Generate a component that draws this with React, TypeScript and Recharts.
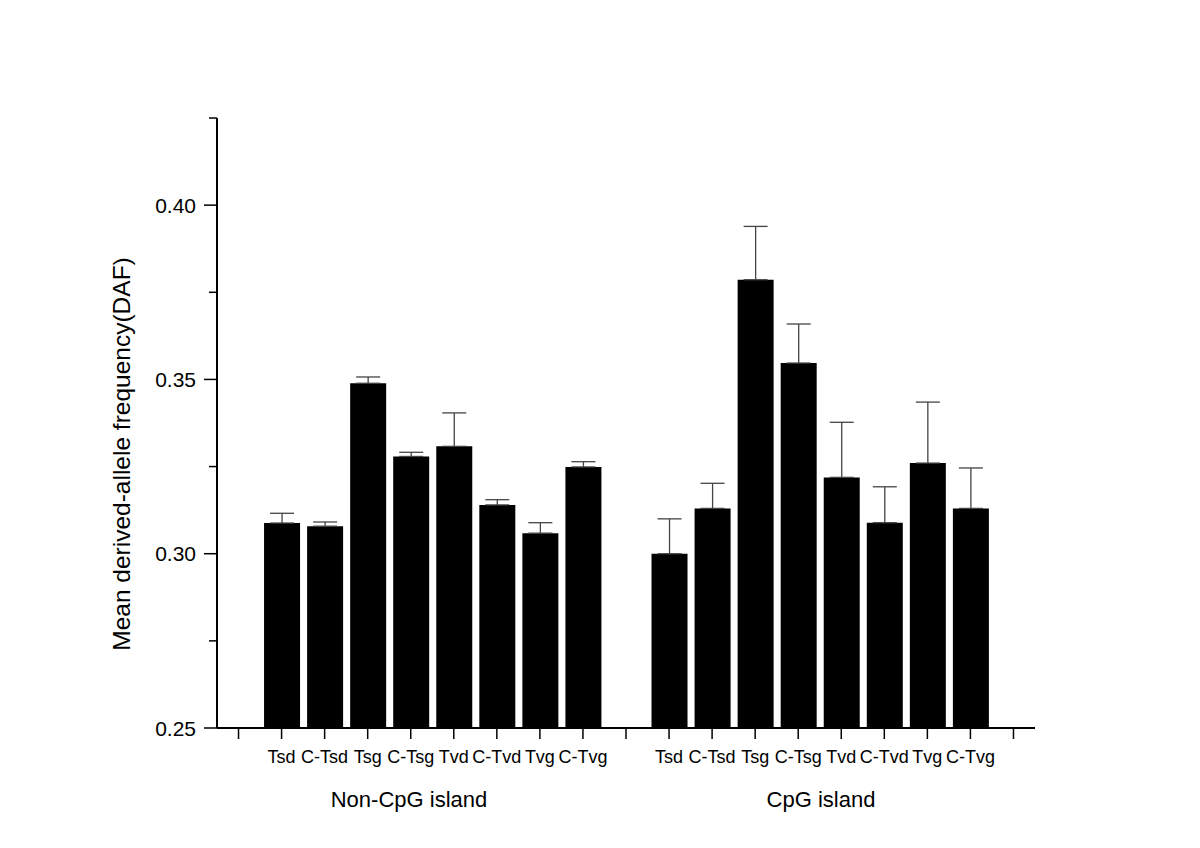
import React from 'react';
import { BarChart, Bar, XAxis, YAxis, ErrorBar } from 'recharts';

const groupLabels = ['Non-CpG island', 'CpG island'];
const barLabels = ['Tsd', 'C-Tsd', 'Tsg', 'C-Tsg', 'Tvd', 'C-Tvd', 'Tvg', 'C-Tvg'];
const nonCpGValues = [0.3088, 0.3079, 0.3489, 0.3279, 0.3308, 0.314, 0.3059, 0.3249];
const nonCpGErrors = [0.0028, 0.0012, 0.0018, 0.0012, 0.0096, 0.0015, 0.003, 0.0015];
const cpGValues = [0.3, 0.313, 0.3786, 0.3547, 0.3219, 0.3089, 0.326, 0.313];
const cpGErrors = [0.01, 0.0072, 0.0153, 0.0112, 0.0158, 0.0103, 0.0175, 0.0116];
const yTicks = [0.25, 0.275, 0.3, 0.325, 0.35, 0.375, 0.4, 0.425];
const yLabel = 'Mean derived-allele frequency(DAF)';

type Row = { k: number; label: string; value: number | null; err: number[] | null };

const data: Row[] = [];
data.push({ k: 0, label: '', value: null, err: null });
barLabels.forEach((l, i) => data.push({ k: data.length, label: l, value: nonCpGValues[i], err: [0, nonCpGErrors[i]] }));
data.push({ k: data.length, label: '', value: null, err: null });
barLabels.forEach((l, i) => data.push({ k: data.length, label: l, value: cpGValues[i], err: [0, cpGErrors[i]] }));
data.push({ k: data.length, label: '', value: null, err: null });

const FONT = '"Liberation Sans", Arial, sans-serif';

const YTick = (props: any) => {
  const { x, y, payload } = props;
  const v = payload.value as number;
  const major = Math.abs(v * 20 - Math.round(v * 20)) < 1e-6;
  return (
    <g>
      <line x1={x - (major ? 13 : 8)} x2={x} y1={y} y2={y} stroke="#000" strokeWidth={1.5} />
      {major && (
        <text x={x - 21} y={y + 7.5} textAnchor="end" fontSize={21} fontFamily={FONT} fill="#000">
          {v.toFixed(2)}
        </text>
      )}
    </g>
  );
};

const XTick = (props: any) => {
  const { x, y, payload } = props;
  const row = data[payload.value as number];
  if (!row || !row.label) return null;
  return (
    <text x={x} y={y + 24} textAnchor="middle" fontSize={18} fontFamily={FONT} fill="#000">
      {row.label}
    </text>
  );
};

export default function App() {
  return (
    <div style={{ position: 'absolute', left: 0, top: 0, width: 1200, height: 848, background: '#fff' }}>
      <BarChart
        width={1200}
        height={848}
        data={data}
        margin={{ top: 118, right: 165, bottom: 90, left: 157 }}
      >
        <XAxis
          dataKey="k"
          type="category"
          height={30}
          interval={0}
          tickSize={11}
          tickMargin={0}
          tickLine={{ stroke: '#000', strokeWidth: 1.5 }}
          axisLine={{ stroke: '#000', strokeWidth: 2 }}
          tick={<XTick />}
        />
        <YAxis
          type="number"
          width={60}
          domain={[0.25, 0.425]}
          allowDataOverflow
          ticks={yTicks}
          interval={0}
          tickSize={0}
          tickMargin={0}
          tickLine={false}
          axisLine={{ stroke: '#000', strokeWidth: 2 }}
          tick={<YTick />}
        />
        <Bar dataKey="value" fill="#000" barSize={36} isAnimationActive={false}>
          <ErrorBar dataKey="err" width={12} stroke="#444" strokeWidth={1.3} direction="y" />
        </Bar>
      </BarChart>
      <svg width={1200} height={848} style={{ position: 'absolute', left: 0, top: 0, pointerEvents: 'none' }}>
        <text
          x={0}
          y={0}
          transform="translate(130 454) rotate(-90)"
          textAnchor="middle"
          fontSize={24.5}
          fontFamily={FONT}
          fill="#000"
        >
          {yLabel}
        </text>
        <text x={409} y={807} textAnchor="middle" fontSize={22} fontFamily={FONT} fill="#000">
          {groupLabels[0]}
        </text>
        <text x={821} y={807} textAnchor="middle" fontSize={22} fontFamily={FONT} fill="#000">
          {groupLabels[1]}
        </text>
      </svg>
    </div>
  );
}
